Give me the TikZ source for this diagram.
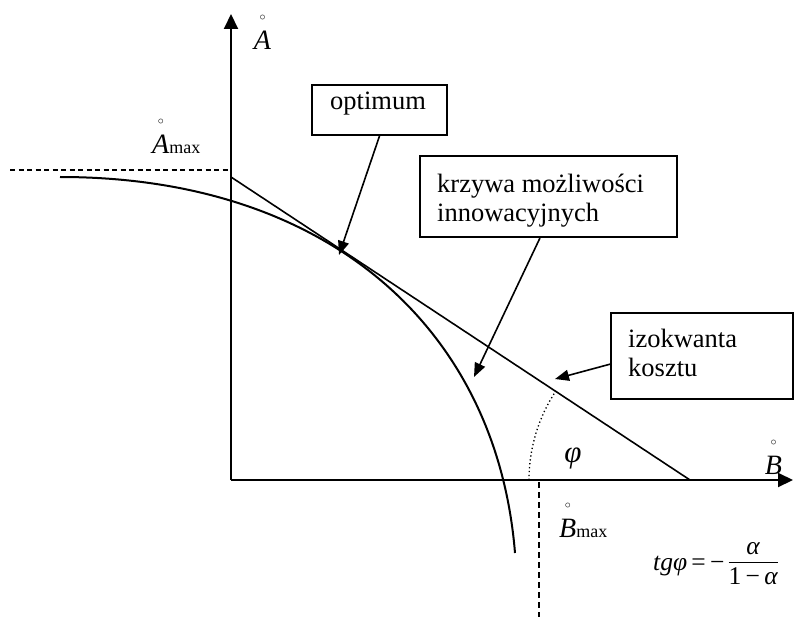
\documentclass[tikz,border=0pt]{standalone}
\usepackage{fontspec}
\setmainfont{Liberation Serif}
\usetikzlibrary{arrows.meta,calc}
\newcommand\ringed[1]{\leavevmode\setbox0=\hbox{\fontsize{28}{30}\selectfont\textit{#1}}\rlap{\hbox to \wd0{\hss\raisebox{29pt}{\fontsize{12}{12}\selectfont$\circ$}\hss}}\box0}
\begin{document}
\begin{tikzpicture}[x=1pt,y=-1pt,font=\fontsize{26.5}{29}\selectfont,
  lblbox/.style={draw,line width=2pt,inner sep=0pt},
  txt/.style={inner sep=0pt},
  conn/.style={line width=1.6pt,-{Triangle[length=14pt,width=11pt]}},
  axisline/.style={line width=2pt,-{Triangle[length=15pt,width=14pt]}},
  dashline/.style={line width=1.1pt,dash pattern=on 5pt off 3.5pt}]
\useasboundingbox (0,0) rectangle (794,620);
% axes
\coordinate (O) at (231,480);
\coordinate (Ytip) at (231,14);
\coordinate (Xtip) at (793,480);
\draw[axisline] (O) -- (Ytip);
\draw[axisline] (O) -- (Xtip);
% isocost line
\coordinate (Ay) at (231,177);
\coordinate (Bx) at (690,480);
\draw[line width=1.6pt] (Ay) -- (Bx);
% dashed guides
\coordinate (Dl) at (10,170);
\coordinate (Dr) at (231,170);
\draw[dashline] (Dl) -- (Dr);
\coordinate (Vt) at (539,482);
\coordinate (Vb) at (539,617);
\draw[dashline,dash pattern=on 6pt off 4pt] (Vt) -- (Vb);
% curve
\coordinate (C0) at (60,177);
\coordinate (C3) at (515,553);
\draw[line width=2pt] (C0) .. controls (330,177) and (497,330) .. (C3);
% angle arc
\draw[line width=1.3pt,dash pattern=on 1.3pt off 2.6pt] ($(Bx)+(-161,0)$) arc[start angle=180,end angle=213.6,radius=161];
% boxes
\node[lblbox,minimum width=135pt,minimum height=50pt] (opt) at (379.5,110) {};
\node[txt,anchor=base west] (optT) at (330,110) {optimum};
\node[lblbox,minimum width=257pt,minimum height=81pt] (kb) at (548.5,196.5) {};
\node[txt,anchor=base west] (kbT) at (437,193) {\begin{tabular}[t]{@{}l@{}}krzywa możliwości\\innowacyjnych\end{tabular}};
\node[lblbox,minimum width=182pt,minimum height=86pt] (iz) at (702,356) {};
\node[txt,anchor=base west] (izT) at (628,347) {\begin{tabular}[t]{@{}l@{}}izokwanta\\kosztu\end{tabular}};
% connectors
\coordinate (optTip) at (339,255);
\coordinate (kbTip) at (474,377);
\coordinate (izTip) at (555,379);
\draw[conn] (opt.south) -- (optTip);
\draw[conn] ($(kb.south west)!0.467!(kb.south east)$) -- (kbTip);
\draw[conn] ($(iz.north west)!0.593!(iz.south west)$) -- (izTip);
% labels
\node[txt,anchor=base] (Alab) at (262.5,50) {\ringed{A}};
\node[txt,anchor=base west] (Amax) at (152,154) {\ringed{A}{\fontsize{18}{18}\selectfont max}};
\node[txt,anchor=base] (Blab) at (773.5,474) {\ringed{B}};
\node[txt,anchor=base west] (Bmax) at (559,537) {\ringed{B}{\fontsize{18}{18}\selectfont max}};
\node[txt,anchor=base] (phi) at (573,462) {\fontsize{31}{32}\selectfont\textit{φ}};
\node[txt,anchor=base west] (tg) at (653,570) {\fontsize{25.5}{29}\selectfont\textit{tgφ}\,=\,−\,$\vcenter{\hbox{\begin{tabular}{@{}c@{}}\textit{α}\\[-1pt]\hline\rule{0pt}{22pt}1\,−\,\textit{α}\end{tabular}}}$};
\end{tikzpicture}
\end{document}
